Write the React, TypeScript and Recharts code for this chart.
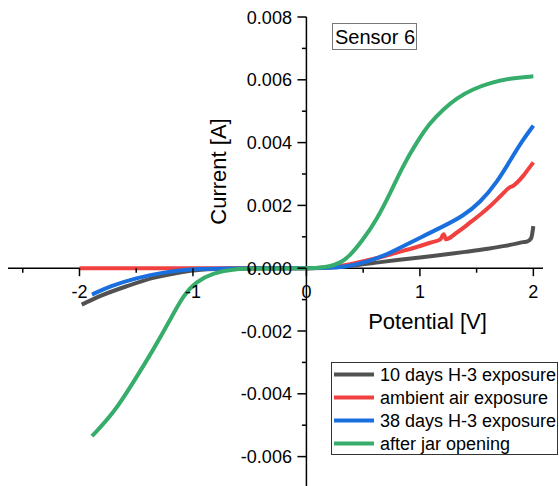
import React from 'react';
import { LineChart, Line, XAxis, YAxis, ReferenceLine } from 'recharts';

// I-V sweeps, potential in V, current in A
const days10V = [-1.98, -1.82, -1.58, -1.35, -1.14, -0.93, -0.6, -0.3, 0, 0.2, 0.4, 0.6, 0.8, 1.0, 1.2, 1.4, 1.6, 1.75, 1.86, 1.91, 1.94, 1.98, 2.0];
const days10I = [-0.00116, -0.00089, -0.00057, -0.00031, -0.00015, -0.00005, -0.00001, 0, 0, 0.00002, 0.00008, 0.00017, 0.00026, 0.00034, 0.00043, 0.00052, 0.00062, 0.00071, 0.00079, 0.00083, 0.00084, 0.00095, 0.00134];

const ambientV = [-2.0, -1.0, 0, 0.2, 0.35, 0.5, 0.65, 0.79, 0.95, 1.09, 1.18, 1.21, 1.23, 1.32, 1.4, 1.44, 1.53, 1.62, 1.72, 1.79, 1.82, 1.91, 1.96, 2.0];
const ambientI = [0, 0, 0, 0.00003, 0.0001, 0.00022, 0.00035, 0.00049, 0.00065, 0.00081, 0.00092, 0.00108, 0.00092, 0.00112, 0.00133, 0.00145, 0.0017, 0.00198, 0.00233, 0.00257, 0.00262, 0.00294, 0.00318, 0.00337];

const days38V = [-1.89, -1.73, -1.5, -1.26, -1.0, -0.7, -0.4, 0, 0.2, 0.35, 0.5, 0.68, 0.85, 1.03, 1.21, 1.38, 1.53, 1.68, 1.82, 1.91, 2.0];
const days38I = [-0.00084, -0.00057, -0.00031, -0.00013, -0.00002, -0.00001, 0, 0, 0.00001, 0.00005, 0.00017, 0.00038, 0.0007, 0.00102, 0.00134, 0.00166, 0.00209, 0.00273, 0.00358, 0.0041, 0.00454];

const jarV = [-1.89, -1.7, -1.53, -1.35, -1.2, -1.09, -0.97, -0.82, -0.64, -0.4, 0, 0.1, 0.2, 0.3, 0.38, 0.5, 0.62, 0.74, 0.85, 0.97, 1.09, 1.21, 1.32, 1.47, 1.62, 1.79, 2.0];
const jarI = [-0.00535, -0.00462, -0.00366, -0.0026, -0.00164, -0.00089, -0.00042, -0.00015, -0.00002, -0.00001, 0, 0.00001, 0.00005, 0.00017, 0.00038, 0.00091, 0.00155, 0.0024, 0.00325, 0.004, 0.00464, 0.00507, 0.00541, 0.00571, 0.0059, 0.00605, 0.00611];

const xMajor = [-2, -1, 0, 1, 2];
const xMinor = [-2.5, -1.5, -0.5, 0.5, 1.5];
const yMajor = [-0.006, -0.004, -0.002, 0, 0.002, 0.004, 0.006, 0.008];
const yMinor = [-0.005, -0.003, -0.001, 0.001, 0.003, 0.005, 0.007];

const zip = (v: number[], i: number[]) => v.map((x, k) => ({ v: x, i: i[k] }));

// smooth sweeps use a B-spline, the ones with small jumps keep monotone
const series = [
  { name: '10 days H-3 exposure', color: '#515151', curve: 'monotone', data: zip(days10V, days10I) },
  { name: 'ambient air exposure', color: '#F14040', curve: 'monotone', data: zip(ambientV, ambientI) },
  { name: '38 days H-3 exposure', color: '#1A6FDF', curve: 'basis', data: zip(days38V, days38I) },
  { name: 'after jar opening', color: '#37AD6B', curve: 'basis', data: zip(jarV, jarI) },
];

const W = 559;
const H = 489;
const margin = { top: 17, right: 16, bottom: 0, left: 7 };
const AXIS_SIZE = 1;
const xDomain: [number, number] = [-2.63, 2.085];
const yDomain: [number, number] = [-0.007, 0.008];

// the axes cross at the origin, so ticks are drawn from there
const plotLeft = margin.left + AXIS_SIZE;
const plotW = W - plotLeft - margin.right;
const plotH = H - margin.top - margin.bottom - AXIS_SIZE;
const ZERO_X = plotLeft + (plotW * (0 - xDomain[0])) / (xDomain[1] - xDomain[0]);
const ZERO_Y = margin.top + (plotH * yDomain[1]) / (yDomain[1] - yDomain[0]);

const FONT = '"Liberation Sans", Arial, sans-serif';

function XTick(props: any) {
  const { x, payload } = props;
  const major = xMajor.includes(payload.value);
  return (
    <g>
      <line x1={x} x2={x} y1={ZERO_Y} y2={ZERO_Y + (major ? 8 : 4.5)} stroke="#000" strokeWidth={1.5} />
      {major && (
        <text x={x} y={ZERO_Y + 30} textAnchor="middle" fontSize={18} fontFamily={FONT} fill="#000">
          {payload.value}
        </text>
      )}
    </g>
  );
}

function YTick(props: any) {
  const { y, payload } = props;
  const major = yMajor.includes(payload.value);
  return (
    <g>
      <line x1={ZERO_X - (major ? 9 : 4.5)} x2={ZERO_X} y1={y} y2={y} stroke="#000" strokeWidth={1.5} />
      {major && (
        <text x={ZERO_X - 14.5} y={y + 6.5} textAnchor="end" fontSize={18} fontFamily={FONT} fill="#000">
          {payload.value.toFixed(3)}
        </text>
      )}
    </g>
  );
}

export default function App() {
  return (
    <div style={{ position: 'absolute', left: 0, top: 0, width: 559, height: 486, overflow: 'hidden', background: '#fff', fontFamily: FONT }}>
      <LineChart width={W} height={H} margin={margin}>
        <XAxis
          type="number"
          dataKey="v"
          domain={xDomain}
          ticks={[...xMinor, ...xMajor].sort((a, b) => a - b)}
          interval={0}
          allowDataOverflow
          height={AXIS_SIZE}
          axisLine={false}
          tickLine={false}
          tick={(p: any) => <XTick {...p} />}
        />
        <YAxis
          type="number"
          dataKey="i"
          domain={yDomain}
          ticks={[...yMinor, ...yMajor].sort((a, b) => a - b)}
          interval={0}
          allowDataOverflow
          width={AXIS_SIZE}
          axisLine={false}
          tickLine={false}
          tick={(p: any) => <YTick {...p} />}
        />
        <ReferenceLine y={0} stroke="#000" strokeWidth={1.5} />
        <ReferenceLine x={0} stroke="#000" strokeWidth={1.5} />
        {series.map((s) => (
          <Line
            key={s.name}
            data={s.data}
            dataKey="i"
            type={s.curve as any}
            stroke={s.color}
            strokeWidth={4}
            dot={false}
            isAnimationActive={false}
          />
        ))}
      </LineChart>
      <svg width={559} height={486} style={{ position: 'absolute', left: 0, top: 0, pointerEvents: 'none' }} fontFamily={FONT}>
        <text x={226} y={171.5} transform="rotate(-90 226 171.5)" textAnchor="middle" fontSize={22} fill="#000">
          Current [A]
        </text>
        <text x={427.5} y={328.5} textAnchor="middle" fontSize={22} fill="#000">
          Potential [V]
        </text>
        <rect x={332.5} y={23.5} width={84} height={26} fill="#fff" stroke="#777" strokeWidth={1} />
        <text x={335} y={44} fontSize={20} fill="#000">
          Sensor 6
        </text>
        <rect x={331.5} y={362.5} width={226} height={92} fill="#fff" stroke="#333" strokeWidth={1} />
        {series.map((s, k) => (
          <g key={s.name}>
            <line x1={334} x2={374} y1={374.5 + k * 23} y2={374.5 + k * 23} stroke={s.color} strokeWidth={4} />
            <text x={380} y={381 + k * 23} fontSize={18} fill="#000">
              {s.name}
            </text>
          </g>
        ))}
      </svg>
    </div>
  );
}
